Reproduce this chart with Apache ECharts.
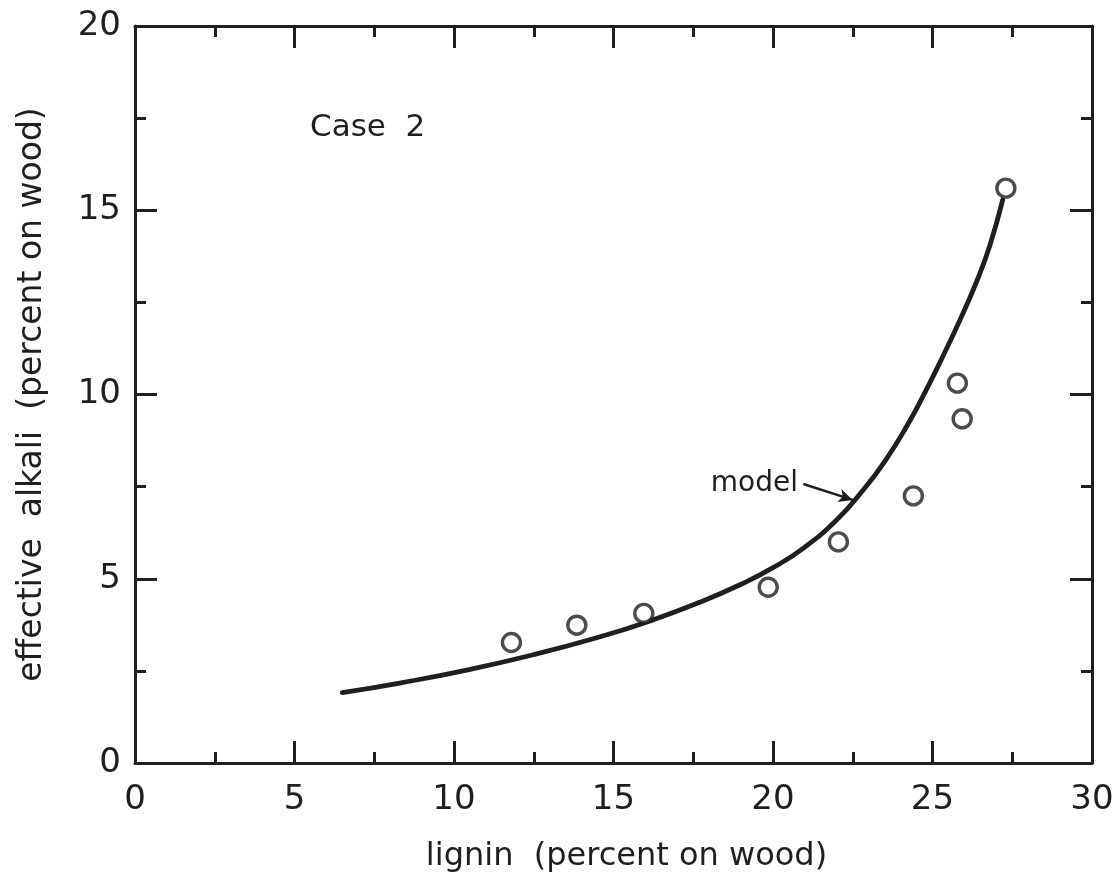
<!DOCTYPE html>
<html>
<head>
<meta charset="utf-8">
<script src="https://cdn.jsdelivr.net/npm/echarts@6/dist/echarts.min.js"></script>
<style>
html,body{margin:0;padding:0;background:#fff;}
#chart{width:1120px;height:886px;}
</style>
</head>
<body>
<div id="chart"></div>
<script>
// Observed data (circles)
const obsLignin = [11.8, 13.85, 15.95, 19.85, 22.05, 24.4, 25.78, 25.93, 27.3];
const obsAlkali = [3.27, 3.74, 4.06, 4.77, 6.0, 7.25, 10.31, 9.34, 15.6];
// Model curve
const modelLignin = [6.5, 8.3, 10.4, 12.5, 14.6, 16.1, 17.7, 19.0, 20.0, 21.0, 22.0, 22.8, 23.5, 24.2, 24.8, 25.35, 25.85, 26.4, 26.8, 27.2];
const modelAlkali = [1.91, 2.17, 2.52, 2.94, 3.43, 3.84, 4.36, 4.85, 5.30, 5.86, 6.60, 7.38, 8.18, 9.15, 10.12, 11.08, 12.0, 13.1, 14.05, 15.28];
// Annotation arrow (data coords)
const arrowFrom = [20.95, 7.57];
const arrowTo = [22.5, 7.14];
const xTicks = [0, 5, 10, 15, 20, 25, 30];
const yTicks = [0, 5, 10, 15, 20];

const ink = '#1f1f1f';
const font = 'DejaVu Sans';

function axisCommon(showLabel) {
  return {
    type: 'value',
    axisLine: { show: true, onZero: false, lineStyle: { color: ink, width: 3 } },
    axisTick: { show: true, inside: true, length: 22, lineStyle: { color: ink, width: 3 } },
    minorTick: { show: true, splitNumber: 2, length: 11, lineStyle: { color: ink, width: 3 } },
    splitLine: { show: false },
    axisLabel: { show: showLabel, color: ink, fontFamily: font, fontSize: 34 }
  };
}

const chart = echarts.init(document.getElementById('chart'), null, { renderer: 'canvas' });
const xb = axisCommon(true);
Object.assign(xb, {
  min: xTicks[0], max: xTicks[xTicks.length - 1], interval: 5, position: 'bottom',
  name: 'lignin  (percent on wood)', nameLocation: 'middle', nameGap: 78,
  nameTextStyle: { color: ink, fontFamily: font, fontSize: 32, padding: [0, 0, 0, 26] }
});
xb.axisLabel.margin = 20;
const xt = axisCommon(false);
Object.assign(xt, { min: xTicks[0], max: xTicks[xTicks.length - 1], interval: 5, position: 'top' });
const yl = axisCommon(true);
Object.assign(yl, {
  min: yTicks[0], max: yTicks[yTicks.length - 1], interval: 5, position: 'left',
  name: 'effective  alkali  (percent on wood)', nameLocation: 'middle', nameGap: 86,
  nameTextStyle: { color: ink, fontFamily: font, fontSize: 33 }
});
yl.axisLabel.margin = 14;
const yr = axisCommon(false);
Object.assign(yr, { min: yTicks[0], max: yTicks[yTicks.length - 1], interval: 5, position: 'right' });

chart.setOption({
  backgroundColor: '#fff',
  animation: false,
  grid: { left: 135, right: 28, top: 26, bottom: 123 },
  xAxis: [xb, xt],
  yAxis: [yl, yr],
  graphic: [
    { type: 'text', left: 310, top: 112, style: { text: 'Case  2', fill: ink, font: '31px "DejaVu Sans"' } },
    { type: 'text', right: 1120 - 798, top: 470, style: { text: 'model', fill: ink, font: '28px "DejaVu Sans"' } }
  ],
  series: [
    {
      type: 'line', xAxisIndex: 0, yAxisIndex: 0,
      data: modelLignin.map((x, i) => [x, modelAlkali[i]]),
      smooth: 0.5, showSymbol: false, symbol: 'none',
      lineStyle: { color: ink, width: 4.8, cap: 'round' },
      markLine: {
        silent: true, symbol: ['none', 'arrow'], symbolSize: [10, 14],
        label: { show: false },
        lineStyle: { color: ink, width: 2.5, type: 'solid', curveness: -0.15 },
        data: [[{ coord: arrowFrom }, { coord: arrowTo }]]
      }
    },
    {
      type: 'scatter', xAxisIndex: 0, yAxisIndex: 0,
      data: obsLignin.map((x, i) => [x, obsAlkali[i]]),
      symbol: 'circle', symbolSize: 18,
      itemStyle: { color: '#fff', borderColor: ink, borderWidth: 3.4 },
      z: 3
    }
  ]
});
</script>
</body>
</html>
